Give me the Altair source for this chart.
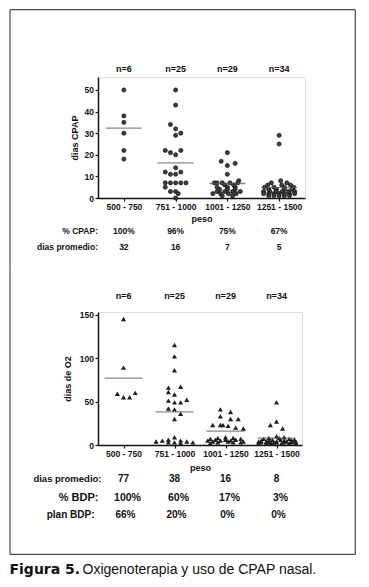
import json
import altair as alt
import pandas as pd

FONT = "Liberation Sans"

categories = ["500 - 750", "751 - 1000", "1001 - 1250", "1251 - 1500"]
n_labels = ["n=6", "n=25", "n=29", "n=34"]

# ---- CPAP (top) : group index, days, horizontal swarm offset (in category steps)
cpap_group = [0] * 6 + [1] * 25 + [2] * 29 + [3] * 34
cpap_days = [
    50, 38, 35, 30, 22, 18,
    50, 43, 34, 32, 30, 29, 22, 21, 20, 22, 14, 12, 11, 11, 12, 7, 7, 7, 7, 7, 5, 3, 3, 2, 0,
    21, 17, 16, 15, 11, 8, 7, 7, 7, 7, 7, 6, 6, 5, 5, 5, 4, 4, 4, 3, 3, 3, 3, 2, 2, 2, 2, 1, 1,
    29, 25, 8, 7, 7, 6, 6, 6, 5, 5, 5, 5, 4, 4, 4, 4, 3, 3, 3, 3, 3, 3, 2, 2, 2, 2, 2, 2, 2, 1, 1, 1, 1, 1,
]
cpap_offset = [
    0, 0, 0, 0, 0, 0,
    0, 0, -0.1, 0, 0.1, 0, -0.2, -0.1, 0, 0.1, 0, -0.2, -0.1, 0, 0.1, -0.2, -0.1, 0, 0.1, 0.2, -0.2, -0.1, 0, 0.05, 0,
    0, -0.12, 0.15, 0, 0, 0.22, -0.25, -0.1, 0.05, 0.2, -0.2, 0.12, -0.05, -0.2, 0, 0.15, -0.15, 0, 0.15, -0.2, -0.05, 0.1, 0.25, -0.28, -0.13, 0.02, 0.17, -0.1, 0.1,
    0, 0, 0.03, -0.15, 0.15, -0.22, 0.05, 0.22, -0.28, -0.1, 0.1, 0.28, -0.2, -0.05, 0.1, 0.25, -0.3, -0.18, -0.06, 0.06, 0.18, 0.3, -0.3, -0.2, -0.1, 0, 0.1, 0.2, 0.3, -0.2, -0.1, 0, 0.1, 0.2,
]
cpap_mean = [32.3, 16.3, 6.7, 4.8]
cpap_pct = ["100%", "96%", "75%", "67%"]
cpap_avg = ["32", "16", "7", "5"]

# ---- O2 (bottom)
o2_group = [0] * 6 + [1] * 25 + [2] * 29 + [3] * 34
o2_days = [
    145, 89, 59, 55, 55, 60,
    115, 102, 86, 66, 67, 61, 58, 51, 49, 49, 52, 42, 41, 36, 30, 9, 6, 5, 5, 4, 4, 3, 3, 3, 2,
    41, 38, 33, 30, 30, 23, 23, 22, 20, 19, 23, 9, 8, 8, 7, 7, 6, 6, 6, 5, 5, 5, 4, 4, 4, 3, 3, 3, 2,
    49, 27, 23, 19, 10, 9, 8, 8, 7, 7, 6, 6, 6, 5, 5, 5, 5, 4, 4, 4, 4, 4, 3, 3, 3, 3, 3, 3, 2, 2, 2, 2, 2, 2,
]
o2_offset = [
    0, 0, -0.12, 0, 0.12, 0.23,
    0, 0, 0, -0.12, 0.12, -0.12, 0, -0.12, 0, 0.12, 0.24, -0.12, 0, 0.12, 0, 0, -0.12, 0.12, -0.24, 0.24, -0.36, 0, 0.36, -0.12, 0.12,
    -0.1, 0.1, -0.1, 0.1, 0.25, -0.25, -0.1, 0.05, 0.2, 0.35, -0.05, 0, -0.15, 0.15, -0.3, 0.3, -0.2, 0, 0.2, -0.35, -0.1, 0.1, -0.25, 0.05, 0.35, -0.15, 0.15, 0.3, -0.3,
    0, 0, -0.12, 0.12, 0, 0.15, -0.15, 0.05, -0.25, 0.25, -0.08, 0.08, 0.35, -0.3, -0.15, 0.15, 0.3, -0.35, -0.2, 0, 0.2, 0.38, -0.3, -0.15, 0, 0.15, 0.3, -0.05, -0.35, -0.2, 0.1, 0.25, 0.38, -0.1,
]
o2_mean = [77, 38, 16, 8]
o2_avg = ["77", "38", "16", "8"]
bdp_pct = ["100%", "60%", "17%", "3%"]
bdp_plan = ["66%", "20%", "0%", "0%"]

cpap_ticks = [0, 10, 20, 30, 40, 50]
o2_ticks = [0, 50, 100, 150]

label_expr = json.dumps(categories) + "[datum.value]"
one = pd.DataFrame({"k": [0]})

cpap_df = pd.DataFrame({"pos": [g + o for g, o in zip(cpap_group, cpap_offset)], "v": cpap_days})
o2_df = pd.DataFrame({"pos": [g + o for g, o in zip(o2_group, o2_offset)], "v": o2_days})
cat_df = pd.DataFrame({
    "pos": list(range(4)), "n": n_labels,
    "cpap_mean": cpap_mean, "cpap_pct": cpap_pct, "cpap_avg": cpap_avg,
    "o2_mean": o2_mean, "o2_avg": o2_avg, "bdp_pct": bdp_pct, "bdp_plan": bdp_plan,
})

INK = "#111111"


def x_enc(title_pad):
    ax = alt.Axis(values=[0, 1, 2, 3], labelExpr=label_expr, grid=False, tickSize=3,
                  tickColor=INK, tickWidth=1.2, domainColor=INK, domainWidth=1.5,
                  labelFont=FONT, labelFontSize=8.5, labelFontWeight="bold", labelColor=INK,
                  labelPadding=1.5, labelFlush=False, labelOverlap=False,
                  titleFont=FONT, titleFontSize=9, titleFontWeight="bold", titleColor=INK,
                  titlePadding=title_pad)
    return alt.X("pos:Q", title="peso", scale=alt.Scale(domain=[-0.5, 3.5], nice=False, zero=False), axis=ax)


def y_enc(field, domain, values, title, title_pad):
    ax = alt.Axis(values=values, grid=False, tickSize=3, tickColor=INK, tickWidth=1.2,
                  domainColor=INK, domainWidth=1.5,
                  labelFont=FONT, labelFontSize=8.5, labelFontWeight="bold", labelColor=INK,
                  labelPadding=1.5, labelFlush=False, labelOverlap=False, tickCount=len(values),
                  titleFont=FONT, titleFontSize=9, titleFontWeight="bold", titleColor=INK,
                  titlePadding=title_pad)
    return alt.Y(field + ":Q", title=title, scale=alt.Scale(domain=domain, nice=False, zero=True), axis=ax)


def txt(size=8.5, align="center"):
    return dict(font=FONT, fontSize=size, fontWeight="bold", color=INK, align=align, baseline="middle")


BORDER = dict(color="#4a4a4a", strokeWidth=1.2)
LEFT, RIGHT = -88, 257.3

# ---------------- top panel ----------------
X1 = x_enc(3)
top_pts = alt.Chart(cpap_df).mark_circle(size=17, color="#3d3d3d", stroke=INK, strokeWidth=0.7, opacity=1).encode(
    x=X1, y=y_enc("v", [0, 56], cpap_ticks, "dias CPAP", 5))
top_mean = alt.Chart(cat_df).mark_tick(orient="horizontal", size=36, thickness=1.3, color="#555555").encode(
    x=X1, y=y_enc("cpap_mean", [0, 56], cpap_ticks, "dias CPAP", 5))
top_n = alt.Chart(cat_df).mark_text(**txt(9)).encode(x=X1, y=alt.value(-8), text="n:N")
top_r1 = alt.Chart(cat_df).mark_text(**txt(8.5)).encode(x=X1, y=alt.value(154.2), text="cpap_pct:N")
top_r2 = alt.Chart(cat_df).mark_text(**txt(8.5)).encode(x=X1, y=alt.value(169.5), text="cpap_avg:N")
top_l1 = alt.Chart(one).mark_text(text="% CPAP:", **txt(8.5, "right")).encode(x=alt.value(0), y=alt.value(154.2))
top_l2 = alt.Chart(one).mark_text(text="dias promedio:", **txt(8.5, "right")).encode(x=alt.value(0), y=alt.value(169.5))
TE = 193.6
tb_top = alt.Chart(one).mark_rule(**BORDER).encode(x=alt.value(LEFT), x2=alt.value(RIGHT), y=alt.value(-67.3))
tb_l = alt.Chart(one).mark_rule(**BORDER).encode(x=alt.value(LEFT), y=alt.value(-67.3), y2=alt.value(TE))
tb_r = alt.Chart(one).mark_rule(**BORDER).encode(x=alt.value(RIGHT), y=alt.value(-67.3), y2=alt.value(TE))

top = alt.layer(top_pts, top_mean, top_n, top_r1, top_r2, top_l1, top_l2, tb_top, tb_l, tb_r).properties(
    width=207, height=121)

# ---------------- bottom panel ----------------
X2 = x_enc(5)
bot_pts = alt.Chart(o2_df).mark_point(shape="triangle-up", filled=True, size=26, color="#1e1e1e", opacity=1).encode(
    x=X2, y=y_enc("v", [0, 153], o2_ticks, "dias de O2", 7))
bot_mean = alt.Chart(cat_df).mark_tick(orient="horizontal", size=38, thickness=1.3, color="#555555").encode(
    x=X2, y=y_enc("o2_mean", [0, 153], o2_ticks, "dias de O2", 7))
bot_n = alt.Chart(cat_df).mark_text(**txt(9)).encode(x=X2, y=alt.value(-15.6), text="n:N")
bot_r1 = alt.Chart(cat_df).mark_text(**txt(10)).encode(x=X2, y=alt.value(167.4), text="o2_avg:N")
bot_r2 = alt.Chart(cat_df).mark_text(dx=4, **txt(10.5)).encode(x=X2, y=alt.value(185.7), text="bdp_pct:N")
bot_r3 = alt.Chart(cat_df).mark_text(dx=2, **txt(10)).encode(x=X2, y=alt.value(203.4), text="bdp_plan:N")
bot_l1 = alt.Chart(one).mark_text(text="dias promedio:", **txt(9.5, "right")).encode(x=alt.value(3.5), y=alt.value(167.4))
bot_l2 = alt.Chart(one).mark_text(text="%  BDP:", **txt(11, "right")).encode(x=alt.value(0.5), y=alt.value(185.7))
bot_l3 = alt.Chart(one).mark_text(text="plan  BDP:", **txt(10, "right")).encode(x=alt.value(-3.5), y=alt.value(203.4))
BS = -41.5
BB = 242.4
bb_l = alt.Chart(one).mark_rule(**BORDER).encode(x=alt.value(LEFT), y=alt.value(BS), y2=alt.value(BB))
bb_r = alt.Chart(one).mark_rule(**BORDER).encode(x=alt.value(RIGHT), y=alt.value(BS), y2=alt.value(BB))
bb_b = alt.Chart(one).mark_rule(**BORDER).encode(x=alt.value(LEFT), x2=alt.value(RIGHT), y=alt.value(BB))
cap1 = alt.Chart(one).mark_text(text="Figura 5.", font="DejaVu Sans", fontSize=14, fontWeight="bold",
                                color="#111111", align="left", baseline="middle").encode(
    x=alt.value(-88.5), y=alt.value(258.4))
cap2 = alt.Chart(one).mark_text(text="Oxigenoterapia y uso de CPAP nasal.", font=FONT, fontSize=14,
                                color="#111111", align="left", baseline="middle").encode(
    x=alt.value(-15.5), y=alt.value(258.4))

bottom = alt.layer(bot_pts, bot_mean, bot_n, bot_r1, bot_r2, bot_r3, bot_l1, bot_l2, bot_l3,
                   bb_l, bb_r, bb_b, cap1, cap2).properties(width=204, height=133)

chart = (alt.vconcat(top, bottom, spacing=-3).properties(padding=0)
         .configure_view(stroke=None)
         .configure_axis(labelOverlap=False)
         .configure(background="white"))

chart.save("out.html", embed_options={"renderer": "svg", "actions": False})
